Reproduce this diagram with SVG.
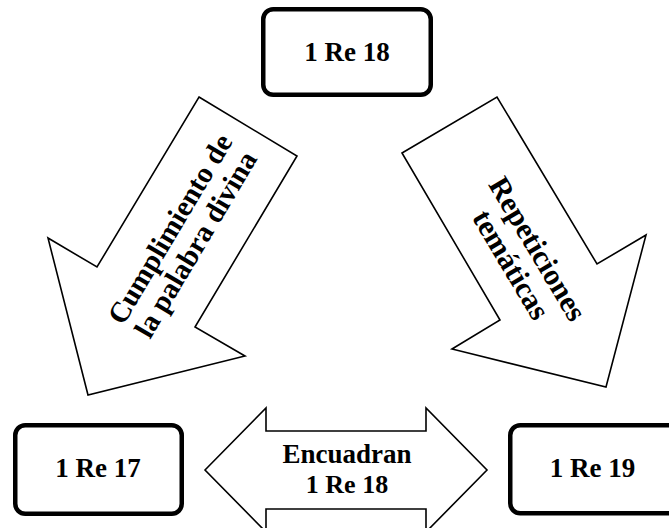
<svg xmlns="http://www.w3.org/2000/svg" width="669" height="528" viewBox="0 0 669 528">
  <style>
    .box { fill: #ffffff; stroke: #000000; stroke-width: 4.5; }
    .arrow { fill: #ffffff; stroke: #000000; stroke-width: 1.6; stroke-linejoin: miter; }
    .lbl { font-family: "Liberation Serif", "DejaVu Serif", serif; font-weight: bold; fill: #000000; text-anchor: middle; }
  </style>
  <rect width="669" height="528" fill="#ffffff"/>

  <!-- connectors: block arrows between the chapters -->
  <g id="connectors">
    <g id="arrow-cumplimiento">
      <polygon class="arrow" points="199,97 297,156 195,327 245,356 88,395 48,238 97,267"/>
      <g transform="translate(182.5,236.5) rotate(-59.2)">
        <text class="lbl" x="0" y="-5" font-size="29">Cumplimiento de</text>
        <text class="lbl" x="0" y="25" font-size="29">la palabra divina</text>
      </g>
    </g>
    <g id="arrow-repeticiones">
      <polygon class="arrow" points="402,153 497,97 597,264 646,235 606,387 452,349 500,320"/>
      <g transform="translate(524,257) rotate(59.2)">
        <text class="lbl" x="0" y="-6" font-size="30">Repeticiones</text>
        <text class="lbl" x="0" y="25" font-size="30">temáticas</text>
      </g>
    </g>
    <g id="arrow-encuadran">
      <polygon class="arrow" points="205,470 266,408 266,431 426,431 426,408 487,470 426,532 426,509 266,509 266,532"/>
      <text class="lbl" x="347" y="463" font-size="27">Encuadran</text>
      <text class="lbl" x="347" y="493" font-size="26">1 Re 18</text>
    </g>
  </g>

  <!-- chapter nodes -->
  <g id="node-1re18">
    <rect class="box" x="263.25" y="9.25" width="167.5" height="85.5" rx="10"/>
    <text class="lbl" x="347" y="61" font-size="27">1 Re 18</text>
  </g>
  <g id="node-1re17">
    <rect class="box" x="15.25" y="425.25" width="166.5" height="88.5" rx="10"/>
    <text class="lbl" x="98" y="477" font-size="27">1 Re 17</text>
  </g>
  <g id="node-1re19">
    <rect class="box" x="510.25" y="425.25" width="170" height="88" rx="10"/>
    <text class="lbl" x="592.5" y="477" font-size="27">1 Re 19</text>
  </g>
</svg>
